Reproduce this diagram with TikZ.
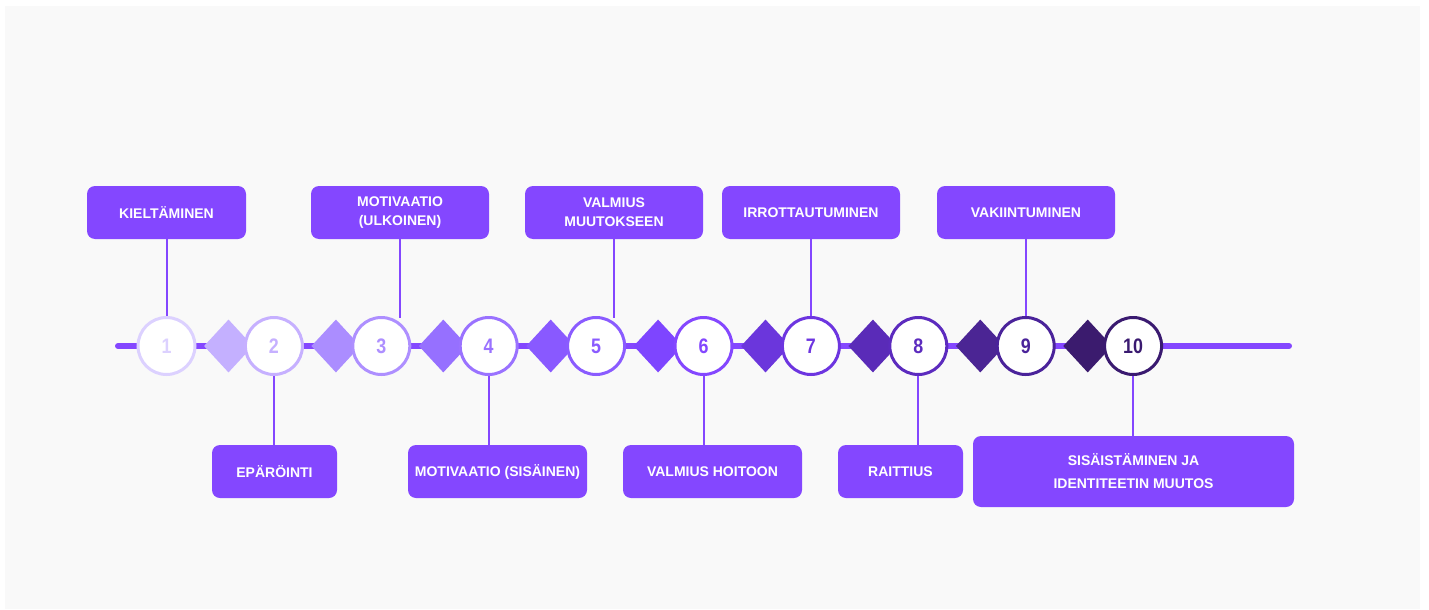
\documentclass[tikz,border=0pt]{standalone}
\usepackage{fontspec}
\setmainfont{Liberation Sans}
\newfontfamily\numfont[FakeStretch=0.85]{Liberation Sans}
\usetikzlibrary{shapes.geometric}
\definecolor{bg}{HTML}{F9F9F9}
\definecolor{boxc}{HTML}{8447FF}
\definecolor{linec}{HTML}{8447FF}
\definecolor{c1}{HTML}{DCD1FF}
\definecolor{c2}{HTML}{C6B0FF}
\definecolor{c3}{HTML}{AE8FFF}
\definecolor{c4}{HTML}{9A72FF}
\definecolor{c5}{HTML}{8A5BFF}
\definecolor{c6}{HTML}{8447FF}
\definecolor{c7}{HTML}{6D35E0}
\definecolor{c8}{HTML}{5C2BBE}
\definecolor{c9}{HTML}{4A239A}
\definecolor{c10}{HTML}{3A1A70}
\definecolor{d1}{HTML}{C4B0FF}
\definecolor{d2}{HTML}{AB8DFF}
\definecolor{d3}{HTML}{9670FF}
\definecolor{d4}{HTML}{8959FF}
\definecolor{d5}{HTML}{7E45FF}
\definecolor{d6}{HTML}{6B36DC}
\definecolor{d7}{HTML}{5A2BB8}
\definecolor{d8}{HTML}{4B2594}
\definecolor{d9}{HTML}{3B1B6E}
\begin{document}
\begin{tikzpicture}[x=1pt,y=-1pt,
  mainline/.style={draw=linec,line width=6pt,line cap=round},
  conn/.style={draw=linec,line width=2pt},
  dia/.style={diamond,inner sep=0pt,minimum width=49pt,minimum height=53pt,draw=none},
  circ/.style={circle,fill=white,line width=3pt,minimum size=57pt,inner sep=0pt,
    font=\fontsize{21}{21}\selectfont\numfont\bfseries},
  lbox/.style={rectangle,rounded corners=8pt,fill=boxc,text=white,inner sep=0pt,
    minimum height=53pt,align=center,font=\fontsize{14}{19}\selectfont\bfseries},
]
\useasboundingbox (0,0) rectangle (1429,610);
\fill[white] (0,0) rectangle (1429,610);
\fill[bg] (5,6) rectangle (1420,609);

\coordinate (ls) at (118,346);
\coordinate (le) at (1289,346);
\draw[mainline] (ls) -- (le);

% top boxes
\node[lbox,minimum width=159pt] (t1) at (166.5,212.5) {KIELTÄMINEN};
\node[lbox,minimum width=178pt] (t3) at (400,212.5) {MOTIVAATIO\\(ULKOINEN)};
\node[lbox,minimum width=178pt] (t5) at (614,212.5) {VALMIUS\\MUUTOKSEEN};
\node[lbox,minimum width=178pt] (t7) at (811,212.5) {IRROTTAUTUMINEN};
\node[lbox,minimum width=178pt] (t9) at (1026,212.5) {VAKIINTUMINEN};

% bottom boxes
\node[lbox,minimum width=125pt] (b2) at (274.5,471.5) {EPÄRÖINTI};
\node[lbox,minimum width=179pt] (b4) at (497.5,471.5) {MOTIVAATIO (SISÄINEN)};
\node[lbox,minimum width=179pt] (b6) at (712.5,471.5) {VALMIUS HOITOON};
\node[lbox,minimum width=125pt] (b8) at (900.5,471.5) {RAITTIUS};
\node[lbox,minimum width=321pt,minimum height=71pt,font=\fontsize{14}{23}\selectfont\bfseries] (b10) at (1133.5,471.5) {SISÄISTÄMINEN JA\\IDENTITEETIN MUUTOS};

% top connector ends
\coordinate (e1) at (166.5,320);
\coordinate (e3) at (400,318);
\coordinate (e5) at (614,318);
\coordinate (e7) at (811,320);
\coordinate (e9) at (1026,320);
\draw[conn] (t1.south) -- (e1);
\draw[conn] (t3.south) -- (e3);
\draw[conn] (t5.south) -- (e5);
\draw[conn] (t7.south) -- (e7);
\draw[conn] (t9.south) -- (e9);

% diamonds
\foreach \i/\x in {1/228.5,2/335.9,3/443.3,4/550.7,5/658.1,6/765.5,7/872.9,8/980.3,9/1087.7}{
  \node[dia,fill=d\i] (m\i) at (\x,346) {};
}

% circles
\foreach \i/\x in {1/166.5,2/273.9,3/381.3,4/488.7,5/596.1,6/703.5,7/810.9,8/918.3,9/1025.7,10/1133.1}{
  \node[circ,draw=c\i,text=c\i] (c\i) at (\x,346) {\i};
}

% bottom connectors
\draw[conn] (c2.south) -- (c2.south |- b2.north);
\draw[conn] (c4.south) -- (c4.south |- b4.north);
\draw[conn] (c6.south) -- (c6.south |- b6.north);
\draw[conn] (c8.south) -- (c8.south |- b8.north);
\draw[conn] (c10.south) -- (c10.south |- b10.north);
\end{tikzpicture}
\end{document}
